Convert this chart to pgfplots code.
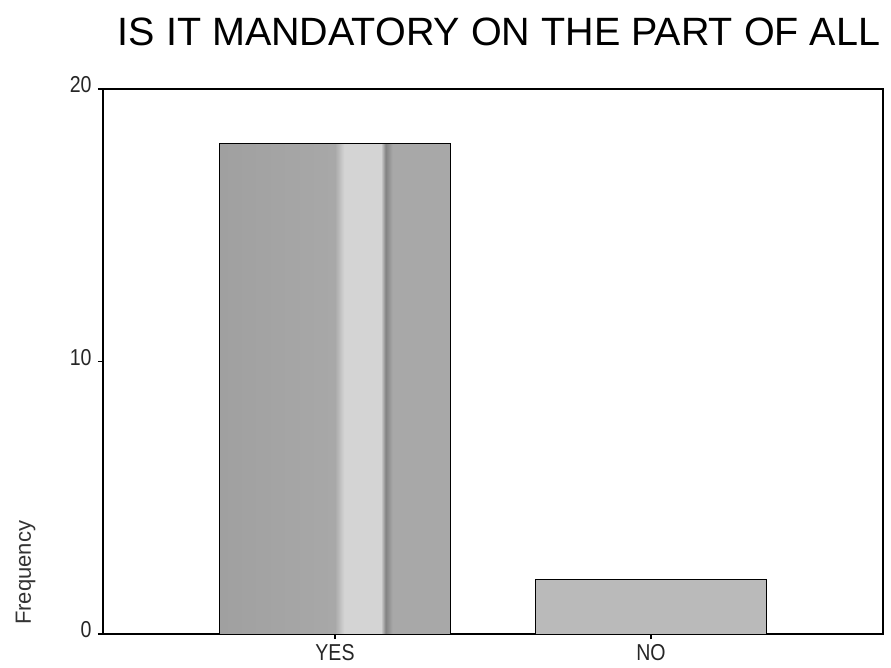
\documentclass[border=0pt]{standalone}
\usepackage{pgfplots}
\pgfplotsset{compat=1.18}
\usepackage{fontspec}
\setmainfont{Liberation Sans}
\definecolor{yesA}{RGB}{160,160,160}
\definecolor{yesB}{RGB}{168,168,168}
\definecolor{yesL}{RGB}{212,212,212}
\definecolor{yesD}{RGB}{130,130,130}
\definecolor{nofill}{RGB}{186,186,186}
\pgfdeclarehorizontalshading{yesbar}{100bp}{color(0bp)=(yesA); color(25bp)=(yesA); color(50bp)=(yesB); color(52bp)=(yesL); color(60bp)=(yesL); color(61bp)=(yesD); color(62.5bp)=(yesB); color(75bp)=(yesB); color(100bp)=(yesB)}
\begin{document}
\begin{tikzpicture}
\begin{axis}[name=ax, at={(103pt,33pt)}, anchor=south west,
  scale only axis, width=780pt, height=545pt,
  xmin=-0.734, xmax=1.734, ymin=0, ymax=20,
  ytick={0,10,20}, xtick={0,1}, xticklabels={YES,NO},
  tick align=outside, major tick length=5pt,
  xtick pos=bottom, ytick pos=left,
  axis line style={line width=1.2pt},
  tick style={black, line width=1.5pt},
  tick label style={font=\fontsize{23}{23}\selectfont, xscale=0.85, text=black!85},
  yticklabel style={yshift=4pt, xshift=-4pt},
  xticklabel style={yshift=-1.5pt},
  /pgf/number format/assume math mode=true,
  ybar, bar width=0.728, bar shift=0pt,
]
\addplot[draw=black, line width=1pt, shading=yesbar, shading angle=0] coordinates {(0,18)};
\addplot[draw=black, line width=1pt, fill=nofill] coordinates {(1,2)};
\end{axis}
\node[font=\fontsize{39.5}{39.5}\selectfont, anchor=base] at ([xshift=6pt,yshift=43pt]ax.north) {IS IT MANDATORY ON THE PART OF ALL};
\node[rotate=90, anchor=base west, font=\fontsize{22}{22}\selectfont, text=black!80, inner sep=0pt] at (31pt,42pt) {Frequency};
\pgfresetboundingbox
\path[use as bounding box] (0pt,0pt) rectangle (891pt,667pt);
\end{tikzpicture}
\end{document}
